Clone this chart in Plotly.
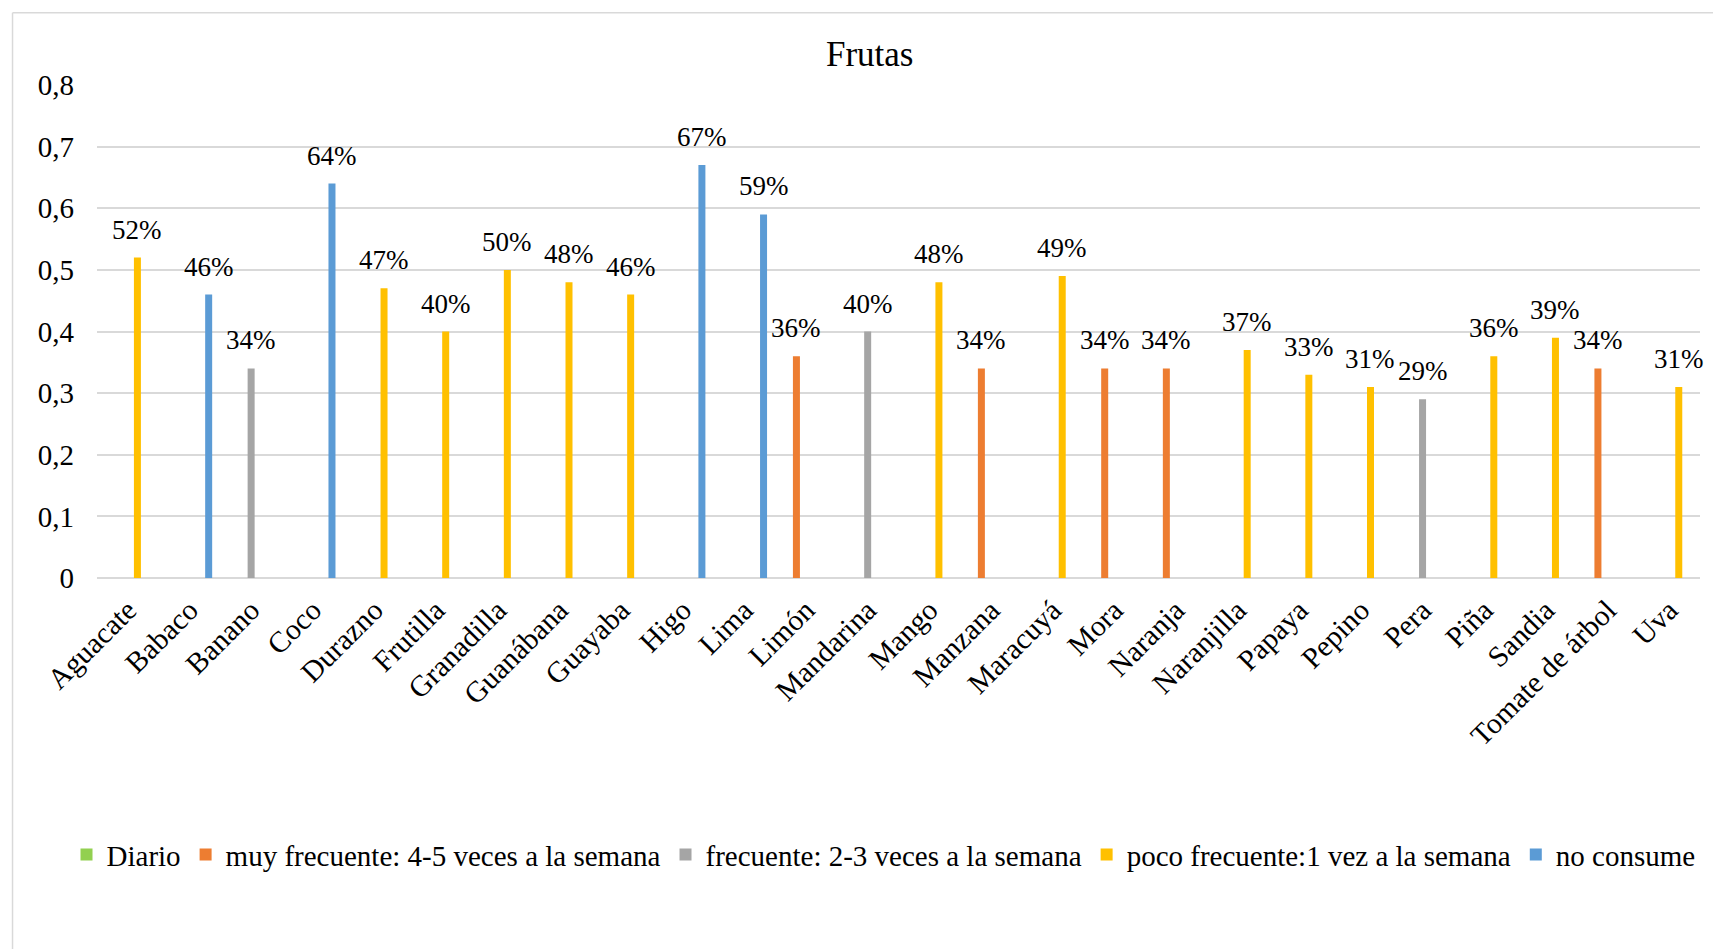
import plotly.graph_objects as go

categories = ["Aguacate", "Babaco", "Banano", "Coco", "Durazno", "Frutilla", "Granadilla",
              "Guanábana", "Guayaba", "Higo", "Lima", "Limón", "Mandarina", "Mango",
              "Manzana", "Maracuyá", "Mora", "Naranja", "Naranjilla", "Papaya", "Pepino",
              "Pera", "Piña", "Sandia", "Tomate de árbol", "Uva"]

diario =         [0, 0, 0, 0, 0, 0, 0, 0, 0, 0, 0, 0, 0, 0, 0, 0, 0, 0, 0, 0, 0, 0, 0, 0, 0, 0]
muy_frecuente =  [0, 0, 0, 0, 0, 0, 0, 0, 0, 0, 0, 0.36, 0, 0, 0.34, 0, 0.34, 0.34, 0, 0, 0, 0, 0, 0, 0.34, 0]
frecuente =      [0, 0, 0.34, 0, 0, 0, 0, 0, 0, 0, 0, 0, 0.40, 0, 0, 0, 0, 0, 0, 0, 0, 0.29, 0, 0, 0, 0]
poco_frecuente = [0.52, 0, 0, 0, 0.47, 0.40, 0.50, 0.48, 0.46, 0, 0, 0, 0, 0.48, 0, 0.49, 0, 0, 0.37, 0.33, 0.31, 0, 0.36, 0.39, 0, 0.31]
no_consume =     [0, 0.46, 0, 0.64, 0, 0, 0, 0, 0, 0.67, 0.59, 0, 0, 0, 0, 0, 0, 0, 0, 0, 0, 0, 0, 0, 0, 0]

series_names = ["Diario", "muy frecuente: 4-5 veces a la semana", "frecuente: 2-3 veces a la semana",
                "poco frecuente:1 vez a la semana", "no consume"]
series_values = [diario, muy_frecuente, frecuente, poco_frecuente, no_consume]
series_colors = ["#92D050", "#ED7D31", "#A5A5A5", "#FFC000", "#5B9BD5"]

y_tick_vals = [0, 0.1, 0.2, 0.3, 0.4, 0.5, 0.6, 0.7, 0.8]
y_tick_text = ["0", "0,1", "0,2", "0,3", "0,4", "0,5", "0,6", "0,7", "0,8"]

FONT = "Liberation Serif, Times New Roman, serif"
W, H = 1713, 949
ML, MR, MT, MB = 96.5, 13, 85, 370.7
PW = W - ML - MR
PH = H - MT - MB
BARGAP = 0.222
N_SERIES = len(series_names)


def px_x(px):
    return (px - ML) / PW


def px_y(py):
    return (H - MB - py) / PH


fig = go.Figure()
for name, vals, col in zip(series_names, series_values, series_colors):
    fig.add_trace(go.Bar(
        x=categories, y=vals, name=name,
        marker=dict(color=col, line=dict(width=0)),
        cliponaxis=False,
    ))

# data labels above bars, shifted to each series' slot within the group
slot_px = (PW / len(categories)) * (1 - BARGAP) / N_SERIES
for si, vals in enumerate(series_values):
    for cat, v in zip(categories, vals):
        if v:
            fig.add_annotation(
                x=cat, y=v, xref="x", yref="y", text=f"{round(v * 100)}%",
                showarrow=False, xanchor="center", yanchor="bottom",
                xshift=(si - (N_SERIES - 1) / 2) * slot_px, yshift=11,
                font=dict(family=FONT, size=27, color="black"),
            )

fig.update_layout(
    width=W, height=H,
    margin=dict(l=ML, r=MR, t=MT, b=MB, autoexpand=False),
    paper_bgcolor="white", plot_bgcolor="white",
    barmode="group", bargap=BARGAP, bargroupgap=0.27,
    font=dict(family=FONT, size=28, color="black"),
    title=dict(text="Frutas", x=869.7 / W, xanchor="center", y=1 - 54 / H, yanchor="middle",
               font=dict(family=FONT, size=35, color="black")),
    showlegend=True,
    legend=dict(orientation="h", x=px_x(66), xanchor="left", y=px_y(855), yanchor="middle",
                font=dict(family=FONT, size=29, color="black"), bgcolor="rgba(0,0,0,0)",
                traceorder="normal", itemwidth=30),
    xaxis=dict(type="category", range=[-0.5, len(categories) - 0.5], autorange=False,
               tickangle=-45, showgrid=False, zeroline=False,
               showline=False, ticks="", ticklabelstandoff=8,
               tickfont=dict(family=FONT, size=29.5, color="black")),
    yaxis=dict(range=[0, 0.8], autorange=False, tickvals=y_tick_vals, ticktext=y_tick_text,
               showgrid=True, gridcolor="#D9D9D9", gridwidth=1.5, zeroline=True,
               zerolinecolor="#D9D9D9", zerolinewidth=1.5, showline=False, ticks="",
               ticklabelstandoff=22, tickfont=dict(family=FONT, size=29, color="black")),
)

# chart area border (top and left edges visible in frame)
fig.add_shape(type="line", xref="paper", yref="paper", x0=px_x(12), x1=px_x(1720),
              y0=px_y(12.7), y1=px_y(12.7), line=dict(color="#D9D9D9", width=1.5))
fig.add_shape(type="line", xref="paper", yref="paper", x0=px_x(12), x1=px_x(12),
              y0=px_y(12.7), y1=px_y(960), line=dict(color="#D9D9D9", width=1.5))

fig.write_html("out.html")
